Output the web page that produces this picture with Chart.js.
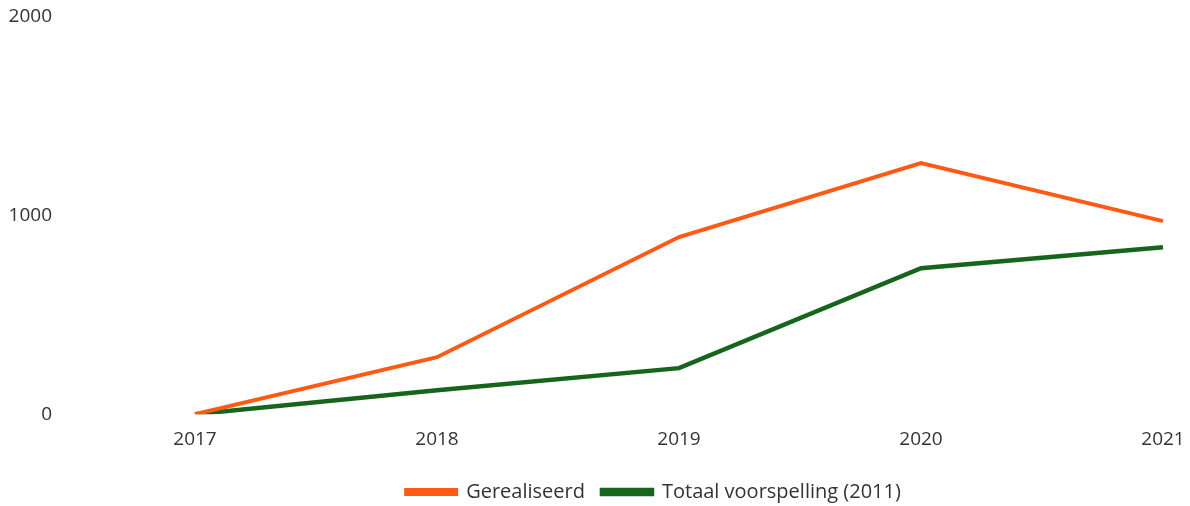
<!DOCTYPE html>
<html>
<head>
<meta charset="utf-8">
<script src="https://cdn.jsdelivr.net/npm/chart.js@4"></script>
<style>
  html, body { margin: 0; padding: 0; background: #fff; }
  #wrap { width: 1190px; height: 506px; }
</style>
</head>
<body>
<div id="wrap"><canvas id="chart"></canvas></div>
<script>
// ===== Data =====
const years = ["2017", "2018", "2019", "2020", "2021"];
const gerealiseerd = [0, 287, 892, 1264, 972];
const voorspelling = [0, 121, 232, 735, 841];
const yTicks = [0, 1000, 2000];

const orange = "#ff5a14";
const green = "#17651c";
const textColor = "#333333";

Chart.defaults.font.family = "'Open Sans', sans-serif";
Chart.defaults.font.size = 19;
Chart.defaults.color = textColor;

// shift the legend a bit to the right, like the original
const legendShift = {
  id: "legendShift",
  afterLayout(chart) {
    chart.legend.left += 72;
    chart.legend.right += 72;
  },
};

new Chart(document.getElementById("chart").getContext("2d"), {
  type: "line",
  data: {
    labels: years,
    datasets: [
      {
        label: "Gerealiseerd",
        data: gerealiseerd,
        borderColor: orange,
        backgroundColor: orange,
        borderWidth: 4,
        pointRadius: 0,
        tension: 0,
      },
      {
        label: "Totaal voorspelling (2011)",
        data: voorspelling,
        borderColor: green,
        backgroundColor: green,
        borderWidth: 4.5,
        pointRadius: 0,
        tension: 0,
      },
    ],
  },
  plugins: [legendShift],
  options: {
    responsive: true,
    maintainAspectRatio: false,
    animation: false,
    layout: { padding: { top: 17, right: 27, left: 0, bottom: -6 } },
    plugins: {
      legend: {
        position: "bottom",
        labels: {
          boxWidth: 50,
          boxHeight: 4,
          padding: 17,
          font: { size: 20 },
        },
      },
      tooltip: { enabled: false },
    },
    scales: {
      x: {
        offset: false,
        grid: { display: false, drawTicks: false },
        border: { display: false },
        ticks: { padding: 14, maxRotation: 0 },
        afterFit: (axis) => {
          axis.paddingLeft = 0;
          axis.paddingRight = 0;
        },
      },
      y: {
        min: 0,
        max: 2000,
        afterBuildTicks: (axis) => {
          axis.ticks = yTicks.map((v) => ({ value: v }));
        },
        grid: { display: false, drawTicks: false },
        border: { display: false },
        ticks: { padding: 143, callback: (v) => String(v) },
        afterFit: (axis) => {
          axis.width = 195;
          axis.paddingTop = 0;
          axis.paddingBottom = 0;
        },
      },
    },
  },
});
</script>
</body>
</html>
